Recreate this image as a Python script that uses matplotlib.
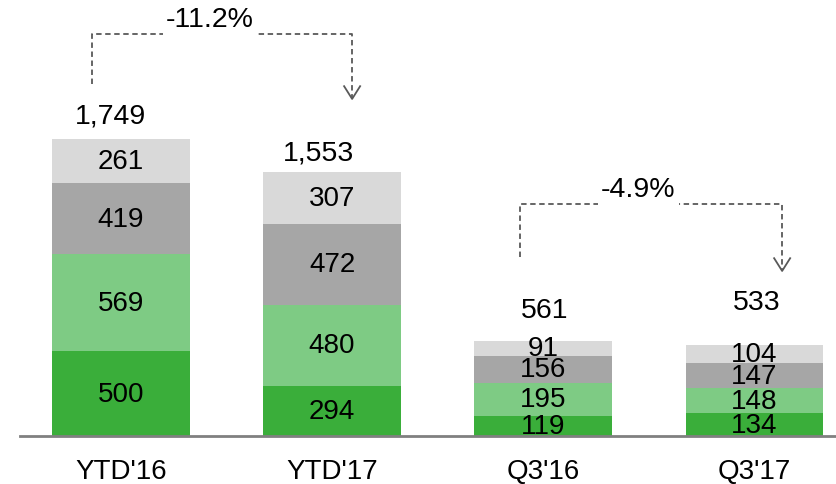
import numpy as np
import matplotlib
matplotlib.use('Agg')
import matplotlib.pyplot as plt

plt.rcParams['font.family'] = ['Liberation Sans', 'DejaVu Sans']

categories = ["YTD'16", "YTD'17", "Q3'16", "Q3'17"]
seg1 = [500, 294, 119, 134]   # dark green
seg2 = [569, 480, 195, 148]   # light green
seg3 = [419, 472, 156, 147]   # dark grey
seg4 = [261, 307, 91, 104]    # light grey
totals = [1749, 1553, 561, 533]
total_labels = ['1,749', '1,553', '561', '533']
changes = ['-11.2%', '-4.9%']

colors = ['#3aae3a', '#7ecb84', '#a6a6a6', '#d9d9d9']

fig = plt.figure(figsize=(8.37, 4.85), dpi=100)
ax = fig.add_axes([20/837, 48/485, 817/837, 437/485])

x = np.arange(len(categories))
w = 0.65
bottom = np.zeros(len(x))
for vals, c in zip([seg1, seg2, seg3, seg4], colors):
    vals = np.array(vals)
    ax.bar(x, vals, w, bottom=bottom, color=c, edgecolor='none')
    for xi, b, v in zip(x, bottom, vals):
        ax.text(xi, b + v/2, str(v), ha='center', va='center', fontsize=20, color='black')
    bottom = bottom + vals

# total labels above bars (pixel offsets)
offs = [(-11, 24), (-14, 20), (2, 31), (3, 43)]
for xi, t, lab, (dx, dy) in zip(x, totals, total_labels, offs):
    ax.annotate(lab, (xi, t), xytext=(dx, dy), textcoords='offset pixels',
                ha='center', va='center', fontsize=20.5)

# dashed change brackets
def bracket(x0, x1, ybot, ytop, ytip, label):
    kw = dict(color='#595959', lw=1.3, ls=(0, (3, 2)))
    ax.plot([x0, x0, x1, x1], [ybot, ytop, ytop, ytip], **kw)
    ax.plot([x1 - 0.038, x1, x1 + 0.038], [ytip + 75, ytip, ytip + 75],
            color='#595959', lw=1.3)
    ax.text((x0 + x1)/2 - 0.06, ytop + 88, label, ha='center', va='center', fontsize=20.5,
            bbox=dict(facecolor='white', edgecolor='none', pad=2))

bracket(x[0] - 0.137, x[1] + 0.095, 2073, 2367, 1985, changes[0])
bracket(x[2] - 0.109, x[3] + 0.133, 1054, 1366, 972, changes[1])

ax.set_xlim(-0.479, 3.393)
ax.set_ylim(0, 437/0.16981)
for s in ['top', 'right', 'left']:
    ax.spines[s].set_visible(False)
ax.spines['bottom'].set_color('#808080')
ax.spines['bottom'].set_linewidth(2)
ax.set_yticks([])
ax.set_xticks(x)
ax.set_xticklabels(categories, fontsize=20)
ax.tick_params(axis='x', length=0, pad=16)

fig.savefig('out.png', dpi=100)
